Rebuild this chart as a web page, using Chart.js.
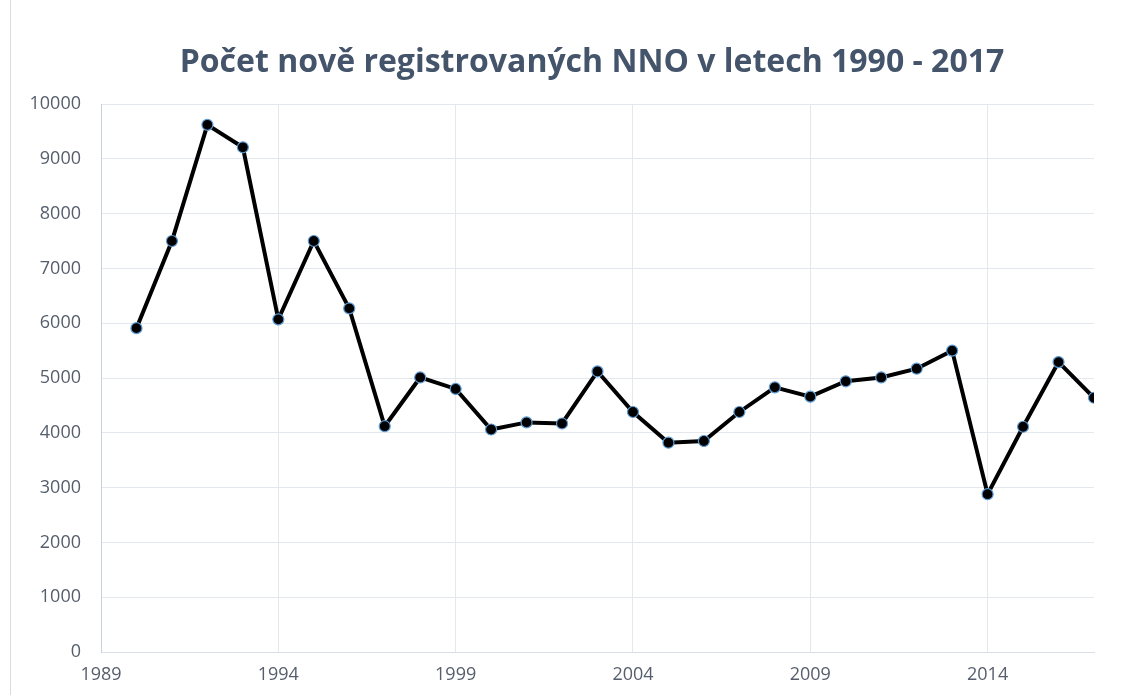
<!DOCTYPE html>
<html>
<head>
<meta charset="utf-8">
<script src="https://cdn.jsdelivr.net/npm/chart.js@4.4.1/dist/chart.umd.min.js"></script>
<style>
  html, body { margin: 0; padding: 0; background: #fff; }
  #wrap { position: relative; width: 1128px; height: 695px; }
  #wrap::before { content: ''; position: absolute; left: 10px; top: 0; bottom: 0; border-left: 1px solid #dcdcdc; }
</style>
</head>
<body>
<div id="wrap"><canvas id="graf" width="1128" height="695"></canvas></div>
<script>
// data
const roky = [1990, 1991, 1992, 1993, 1994, 1995, 1996, 1997, 1998, 1999,
              2000, 2001, 2002, 2003, 2004, 2005, 2006, 2007, 2008, 2009,
              2010, 2011, 2012, 2013, 2014, 2015, 2016, 2017];
const pocty = [5910, 7500, 9620, 9210, 6070, 7500, 6270, 4120, 5010, 4800,
               4060, 4190, 4170, 5120, 4380, 3820, 3850, 4380, 4830, 4660,
               4940, 5010, 5170, 5500, 2880, 4110, 5290, 4640];
const xTicks = [1989, 1994, 1999, 2004, 2009, 2014];
const yTicks = [0, 1000, 2000, 3000, 4000, 5000, 6000, 7000, 8000, 9000, 10000];
const nadpis = 'Počet nově registrovaných NNO v letech 1990 - 2017';

const barvaTextu = '#565e6c';
const mrizka = '#e3e7ee';

// nadpis vycentrovany jako v originale (trochu vpravo od stredu)
const nadpisPlugin = {
    id: 'nadpis',
    afterDraw(chart) {
        const c = chart.ctx;
        c.save();
        c.font = 'bold 32px "Open Sans"';
        c.fillStyle = '#44546a';
        c.textAlign = 'center';
        c.textBaseline = 'alphabetic';
        c.fillText(nadpis, 592, 72);
        c.restore();
    }
};

const ctx = document.getElementById('graf').getContext('2d');

new Chart(ctx, {
    type: 'line',
    data: {
        datasets: [{
            label: 'Počet NNO',
            data: roky.map((r, i) => ({ x: r, y: pocty[i] })),
            borderColor: '#000000',
            borderWidth: 4,
            pointRadius: 5.5,
            pointBackgroundColor: '#000000',
            pointBorderColor: '#5b9bd5',
            pointBorderWidth: 1.2,
            tension: 0,
            fill: false
        }]
    },
    options: {
        responsive: false,
        animation: false,
        layout: { padding: { left: 0, right: 34, top: 104, bottom: 0 } },
        scales: {
            x: {
                type: 'linear',
                min: 1989,
                max: 2017,
                afterBuildTicks: (scale) => { scale.ticks = xTicks.map(v => ({ value: v })); },
                afterFit: (scale) => { scale.height = 43; },
                ticks: {
                    color: barvaTextu,
                    font: { family: 'Open Sans', size: 18 },
                    padding: 12,
                    callback: (v) => String(v),
                    maxRotation: 0
                },
                grid: { color: mrizka, drawTicks: false },
                border: { color: '#d9dee8' }
            },
            y: {
                min: 0,
                max: 10000,
                afterBuildTicks: (scale) => { scale.ticks = yTicks.map(v => ({ value: v })); },
                afterFit: (scale) => { scale.width = 101; },
                ticks: {
                    color: barvaTextu,
                    font: { family: 'Open Sans', size: 18 },
                    padding: 20,
                    callback: (v) => String(v)
                },
                grid: { color: mrizka, drawTicks: false },
                border: { color: '#c9d1de' }
            }
        },
        plugins: {
            legend: { display: false },
            tooltip: { enabled: false },
            title: { display: false }
        }
    },
    plugins: [nadpisPlugin]
});
</script>
</body>
</html>
